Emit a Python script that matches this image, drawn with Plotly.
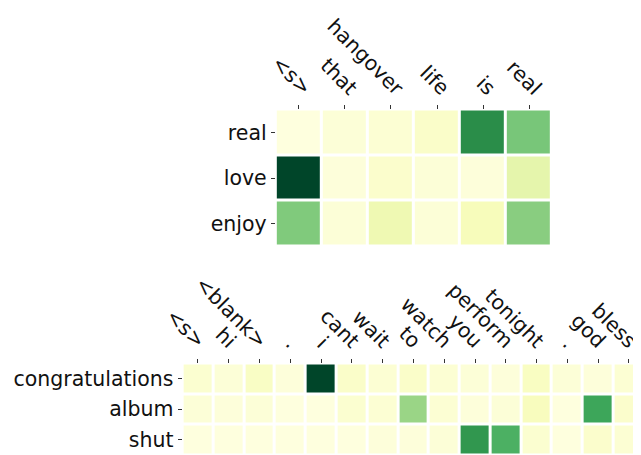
import plotly.graph_objects as go

# ---- data ----
top_x = ["&lt;s&gt;", "that", "hangover", "life", "is", "real"]
top_y = ["real", "love", "enjoy"]
top_z = [
    [0.02, 0.04, 0.05, 0.08, 0.72, 0.50],
    [1.00, 0.03, 0.07, 0.04, 0.03, 0.20],
    [0.48, 0.04, 0.16, 0.04, 0.12, 0.46],
]

bot_x = ["&lt;s&gt;", "hi", "&lt;blank&gt;", ".", "i", "cant", "wait", "to", "watch",
         "you", "perform", "tonight", ".", "god", "bless"]
bot_y = ["congratulations", "album", "shut"]
bot_z = [
    [0.06, 0.04, 0.09, 0.03, 1.00, 0.08, 0.05, 0.08, 0.05, 0.04, 0.03, 0.10, 0.04, 0.03, 0.05],
    [0.04, 0.03, 0.04, 0.02, 0.02, 0.06, 0.05, 0.42, 0.05, 0.03, 0.04, 0.11, 0.02, 0.64, 0.07],
    [0.02, 0.02, 0.02, 0.02, 0.02, 0.02, 0.03, 0.03, 0.04, 0.69, 0.60, 0.06, 0.02, 0.07, 0.05],
]

ylgn = ["#ffffe5", "#f7fcb9", "#d9f0a3", "#addd8e", "#78c679",
        "#41ab5d", "#238443", "#006837", "#004529"]
colorscale = [[i / (len(ylgn) - 1), c] for i, c in enumerate(ylgn)]

# page has an 8px body margin; figure fills the rest of the 641x455 window
OFF = 8
W, H = 641 - OFF, 455 - OFF
FONT = "DejaVu Sans"


def px_x(a, b):
    return [(a - OFF) / W, min(1.0, (b - OFF) / W)]


def px_y(top, bottom):
    return [max(0.0, 1 - (bottom - OFF) / H), 1 - (top - OFF) / H]


fig = go.Figure()
fig.add_trace(go.Heatmap(z=top_z, x=list(range(len(top_x))), y=list(range(len(top_y))),
                         colorscale=colorscale, zmin=0, zmax=1, showscale=False,
                         xgap=3, ygap=3, xaxis="x", yaxis="y"))
fig.add_trace(go.Heatmap(z=bot_z, x=list(range(len(bot_x))), y=list(range(len(bot_y))),
                         colorscale=colorscale, zmin=0, zmax=1, showscale=False,
                         xgap=3, ygap=3, xaxis="x2", yaxis="y2"))

tickfont = dict(family=FONT, size=20.5, color="#111111")
common = dict(showgrid=False, zeroline=False, showline=False, ticks="outside",
              ticklen=4, tickwidth=1, tickcolor="#333333", tickfont=tickfont,
              automargin=False, ticklabeloverflow="allow")

fig.update_layout(
    width=W, height=H, margin=dict(l=0, r=0, t=0, b=0),
    paper_bgcolor="white", plot_bgcolor="white",
    xaxis=dict(domain=px_x(275.8, 552.2), side="top", tickangle=45,
               ticklabelshift=11, ticklabelstandoff=-3,
               tickmode="array", tickvals=list(range(len(top_x))), ticktext=top_x,
               range=[-0.5, len(top_x) - 0.5], anchor="y", **common),
    yaxis=dict(domain=px_y(109.5, 246.5), autorange="reversed",
               tickmode="array", tickvals=list(range(len(top_y))), ticktext=top_y,
               anchor="x", **common),
    xaxis2=dict(domain=px_x(182.6, 641), side="top", tickangle=45,
                ticklabelshift=6, ticklabelstandoff=-2,
                tickmode="array", tickvals=list(range(len(bot_x))), ticktext=bot_x,
                range=[-0.5, 14.39], anchor="y2", **common),
    yaxis2=dict(domain=px_y(363.5, 455), autorange="reversed",
                tickmode="array", tickvals=list(range(len(bot_y))), ticktext=bot_y,
                anchor="x2", **common),
)

fig.write_html("out.html")
